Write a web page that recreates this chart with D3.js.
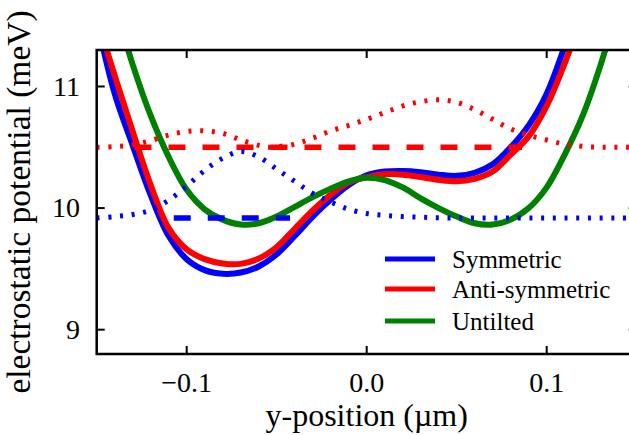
<!DOCTYPE html>
<html><head><meta charset="utf-8">
<script src="https://cdn.jsdelivr.net/npm/d3@7/dist/d3.min.js"></script>
<style>
body{margin:0;background:#fff}
svg{display:block}
text{font-family:"Liberation Serif","Times New Roman",serif;fill:#000}
</style>
</head><body>
<svg id="chart" width="629" height="435"></svg>
<script>
// ---- data ----
const xGrid = [-0.15,-0.14,-0.13,-0.12,-0.11,-0.10,-0.09,-0.08,-0.07,-0.06,-0.05,-0.04,-0.03,-0.02,-0.01,
  0.00,0.01,0.02,0.03,0.04,0.05,0.06,0.07,0.08,0.09,0.10,0.11,0.12,0.13,0.14,0.15];
const symmetricPot = [11.55,10.94,10.515,10.106,9.77,9.58,9.49,9.46,9.47,9.52,9.62,9.77,9.93,10.07,10.19,
  10.27,10.30,10.305,10.295,10.275,10.265,10.29,10.36,10.50,10.68,10.94,11.33,11.75,12.2,12.7,13.2];
const antiPot = [11.57,11.09,10.63,10.19,9.835,9.66,9.58,9.545,9.541,9.585,9.68,9.83,9.98,10.11,10.21,
  10.255,10.278,10.275,10.255,10.232,10.22,10.24,10.30,10.44,10.59,10.84,11.19,11.6,12.05,12.55,13.1];
const untiltedPot = [12.2,11.68,11.18,10.76,10.42,10.15,9.99,9.905,9.865,9.875,9.93,10.01,10.09,10.16,10.22,
  10.25,10.23,10.17,10.08,10.00,9.93,9.875,9.865,9.905,10.00,10.17,10.44,10.76,11.18,11.68,12.2];
const symDensity = [9.918,9.93,9.947,9.985,10.065,10.18,10.31,10.41,10.465,10.42,10.32,10.22,10.12,10.05,9.99,
  9.955,9.94,9.93,9.925,9.92,9.918,9.918,9.918,9.918,9.918,9.918,9.918,9.918,9.918,9.918,9.918];
const xAnti = [-0.15,-0.14,-0.13,-0.12,-0.11,-0.10,-0.09,-0.08,-0.07,-0.06,-0.055,-0.05,-0.04,-0.03,-0.02,-0.01,
  0.00,0.01,0.02,0.03,0.04,0.05,0.06,0.07,0.08,0.09,0.10,0.11,0.12,0.13,0.14,0.15];
const antiDensity = [10.50,10.505,10.52,10.555,10.60,10.63,10.635,10.615,10.56,10.515,10.50,10.505,10.525,10.575,10.635,10.68,
  10.73,10.785,10.84,10.875,10.89,10.87,10.81,10.73,10.65,10.60,10.56,10.525,10.508,10.50,10.50,10.50];
const levelValues = [9.918, 10.5];
const levelFrom = [-0.1072, -0.129];
const levelTo = [-0.0426, 0.0863];
const seriesNames = ["Symmetric","Anti-symmetric","Untilted"];
const seriesColors = ["#0000ff","#ff0000","#008000"];
const xTicks = [-0.1, 0.0, 0.1];
const xTickLabels = ["\u22120.1","0.0","0.1"];
const yTicks = [9, 10, 11];
const yTickLabels = ["9","10","11"];

// ---- layout ----
const svg = d3.select("#chart");
const L = 96.7, R = 636.7, T = 50, B = 354;
const x = d3.scaleLinear().domain([-0.15, 0.15]).range([L, R]);
const y = d3.scaleLinear().domain([8.8, 11.3]).range([B, T]);

svg.append("defs").append("clipPath").attr("id","clip")
  .append("rect").attr("x",L).attr("y",T).attr("width",R-L).attr("height",B-T);

const plot = svg.append("g").attr("clip-path","url(#clip)");
const line = d3.line().curve(d3.curveCatmullRom.alpha(0.5));

function pts(xs, vs){ return xs.map((d,i)=>[x(d), y(vs[i])]); }

const solids = [symmetricPot, antiPot, untiltedPot];
solids.forEach((vs,i)=>{
  plot.append("path").attr("d", line(pts(xGrid, vs)))
    .attr("fill","none").attr("stroke",seriesColors[i]).attr("stroke-width",6);
});

// energy levels (dashed)
levelValues.forEach((v,i)=>{
  plot.append("path").attr("d", d3.line()([[x(levelFrom[i]), y(v)],[x(levelTo[i]), y(v)]]))
    .attr("fill","none").attr("stroke",seriesColors[i]).attr("stroke-width",5.5)
    .attr("stroke-dasharray","17,17");
});

// densities (dotted)
[[xGrid, symDensity, 0],[xAnti, antiDensity, 1]].forEach(([xs, vs, ci])=>{
  plot.append("path").attr("d", line(pts(xs, vs)))
    .attr("fill","none").attr("stroke",seriesColors[ci]).attr("stroke-width",5)
    .attr("stroke-dasharray","3,8.7");
});

// ---- axes frame ----
const axG = svg.append("g");
axG.append("rect").attr("x",L).attr("y",T).attr("width",R-L).attr("height",B-T)
  .attr("fill","none").attr("stroke","#000").attr("stroke-width",2.5);

const tl = 8;
xTicks.forEach((t,i)=>{
  axG.append("line").attr("x1",x(t)).attr("x2",x(t)).attr("y1",B).attr("y2",B-tl).attr("stroke","#000").attr("stroke-width",2);
  axG.append("line").attr("x1",x(t)).attr("x2",x(t)).attr("y1",T).attr("y2",T+tl).attr("stroke","#000").attr("stroke-width",2);
  axG.append("text").attr("x",x(t)).attr("y",392).attr("text-anchor","middle")
    .attr("font-size",28).text(xTickLabels[i]);
});
yTicks.forEach((t,i)=>{
  axG.append("line").attr("x1",L).attr("x2",L+tl).attr("y1",y(t)).attr("y2",y(t)).attr("stroke","#000").attr("stroke-width",2);
  axG.append("line").attr("x1",R).attr("x2",R-tl).attr("y1",y(t)).attr("y2",y(t)).attr("stroke","#000").attr("stroke-width",2);
  axG.append("text").attr("x",80).attr("y",y(t)).attr("dy","0.33em").attr("text-anchor","end")
    .attr("font-size",28).text(yTickLabels[i]);
});

svg.append("text").attr("x",(L+R)/2).attr("y",426).attr("text-anchor","middle")
  .attr("font-size",32).text("y-position (\u00b5m)");
svg.append("text").attr("transform",`translate(30,${(T+B)/2}) rotate(-90)`)
  .attr("text-anchor","middle").attr("font-size",33.5).text("electrostatic potential (meV)");

// ---- legend ----
const lg = svg.append("g");
const legY = [259, 289, 321];
seriesNames.forEach((n,i)=>{
  lg.append("line").attr("x1",385).attr("x2",435).attr("y1",legY[i]).attr("y2",legY[i])
    .attr("stroke",seriesColors[i]).attr("stroke-width",5);
  lg.append("text").attr("x",452).attr("y",legY[i]).attr("dy","0.35em")
    .attr("font-size",25).text(n);
});
</script>
</body></html>
